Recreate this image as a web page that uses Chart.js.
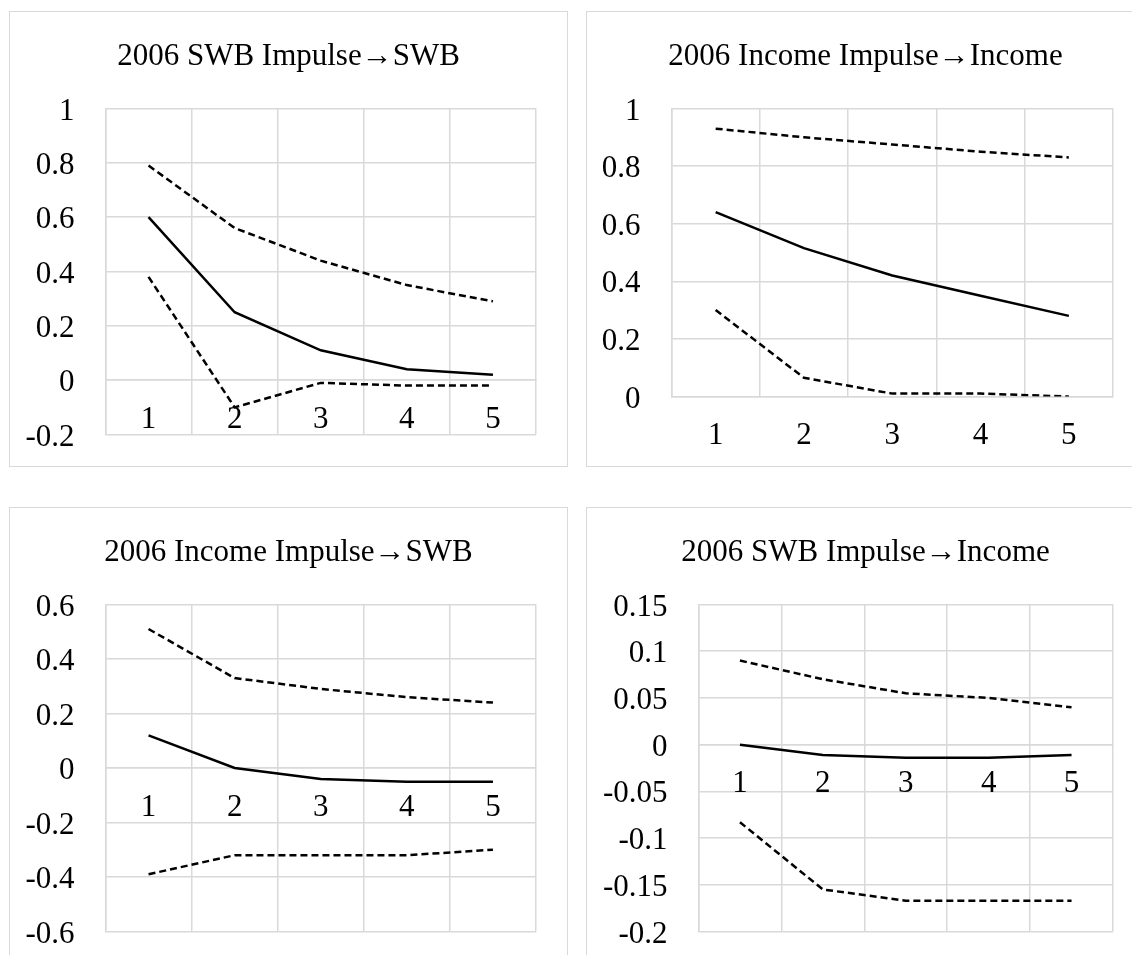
<!DOCTYPE html>
<html>
<head>
<meta charset="utf-8">
<script src="https://cdn.jsdelivr.net/npm/chart.js@4.4.1/dist/chart.umd.min.js"></script>
<style>
html, body { margin: 0; padding: 0; background: #fff; overflow: hidden; }
body { width: 1132px; height: 955px; position: relative; }
.panel { position: absolute; width: 559px; height: 456px; border: 1.5px solid #d9d9d9; box-sizing: border-box; background: #fff; }
.panel canvas { display: block; }
</style>
</head>
<body>
<div class="panel" style="left:9px;top:11px"><canvas id="swbSwb"></canvas></div>
<div class="panel" style="left:586px;top:11px"><canvas id="incInc"></canvas></div>
<div class="panel" style="left:9px;top:507px"><canvas id="incSwb"></canvas></div>
<div class="panel" style="left:586px;top:507px"><canvas id="swbInc"></canvas></div>
<script>
// 期間（横軸）
const periods = ['1', '2', '3', '4', '5'];

// 2006 SWB Impulse→SWB
const swbSwbMid   = [0.60, 0.25, 0.11, 0.04, 0.02];
const swbSwbUpper = [0.79, 0.56, 0.44, 0.35, 0.29];
const swbSwbLower = [0.38, -0.10, -0.01, -0.02, -0.02];
const swbSwbRange = [-0.2, 1, 0.2];

// 2006 Income Impulse→Income
const incIncMid   = [0.64, 0.515, 0.42, 0.35, 0.28];
const incIncUpper = [0.93, 0.90, 0.875, 0.85, 0.83];
const incIncLower = [0.30, 0.065, 0.01, 0.01, 0.00];
const incIncRange = [0, 1, 0.2];

// 2006 Income Impulse→SWB
const incSwbMid   = [0.12, 0.00, -0.04, -0.05, -0.05];
const incSwbUpper = [0.51, 0.33, 0.29, 0.26, 0.24];
const incSwbLower = [-0.39, -0.32, -0.32, -0.32, -0.30];
const incSwbRange = [-0.6, 0.6, 0.2];

// 2006 SWB Impulse→Income
const swbIncMid   = [0.00, -0.011, -0.014, -0.014, -0.011];
const swbIncUpper = [0.09, 0.07, 0.055, 0.05, 0.04];
const swbIncLower = [-0.083, -0.155, -0.167, -0.167, -0.167];
const swbIncRange = [-0.2, 0.15, 0.05];

const GRID = '#d9d9d9';
const FONT = { family: "'Liberation Serif', 'Times New Roman', serif", size: 31, weight: 'normal' };
const RIGHT_GAP = 31;

function dashed(values) {
    return { data: values, borderColor: '#000', borderWidth: 2.5, borderDash: [7, 4], pointRadius: 0, fill: false };
}

// パネル描画（x軸はy=0の位置に置く）
function makeChart(id, title, mid, upper, lower, range, plotLeft, bottomPad) {
    new Chart(document.getElementById(id), {
        type: 'line',
        data: {
            labels: periods,
            datasets: [
                dashed(upper),
                { data: mid, borderColor: '#000', borderWidth: 2.5, pointRadius: 0, fill: false },
                dashed(lower)
            ]
        },
        options: {
            responsive: true,
            maintainAspectRatio: false,
            animation: false,
            layout: { padding: { bottom: bottomPad } },
            plugins: {
                legend: { display: false },
                tooltip: { enabled: false },
                title: {
                    display: true,
                    text: title,
                    color: '#000',
                    font: FONT,
                    padding: { top: 26, bottom: 33.3 }
                }
            },
            scales: {
                x: {
                    position: { y: 0 },
                    offset: true,
                    grid: { offset: true, color: GRID, lineWidth: 1.5, drawTicks: false },
                    border: { color: GRID, width: 1.5 },
                    ticks: { color: '#000', font: FONT, padding: 21, maxRotation: 0 }
                },
                y: {
                    min: range[0],
                    max: range[1],
                    grid: { color: GRID, lineWidth: 1.5, drawTicks: false },
                    border: { color: GRID, width: 1.5 },
                    ticks: {
                        stepSize: range[2],
                        color: '#000',
                        font: FONT,
                        padding: 31,
                        labelOffset: 3,
                        callback: v => String(parseFloat(v.toFixed(3)))
                    },
                    afterFit: s => {
                        s.width = plotLeft;
                        s.paddingTop = 0;
                        s.paddingBottom = 0;
                    }
                },
                // 右側の余白用（表示なし）
                gap: {
                    type: 'linear',
                    axis: 'y',
                    position: 'right',
                    grid: { display: false, drawTicks: false },
                    border: { display: false },
                    ticks: { display: false },
                    afterFit: s => {
                        s.width = RIGHT_GAP;
                        s.paddingTop = 0;
                        s.paddingBottom = 0;
                    }
                }
            }
        }
    });
}

document.addEventListener('DOMContentLoaded', () => {
    makeChart('swbSwb', '2006 SWB Impulse→SWB', swbSwbMid, swbSwbUpper, swbSwbLower, swbSwbRange, 95.5, 31.5);
    makeChart('incInc', '2006 Income Impulse→Income', incIncMid, incIncUpper, incIncLower, incIncRange, 84.5, 69.5);
    makeChart('incSwb', '2006 Income Impulse→SWB', incSwbMid, incSwbUpper, incSwbLower, incSwbRange, 95.5, 30.5);
    makeChart('swbInc', '2006 SWB Impulse→Income', swbIncMid, swbIncUpper, swbIncLower, swbIncRange, 111.5, 30.5);
});
</script>
</body>
</html>
